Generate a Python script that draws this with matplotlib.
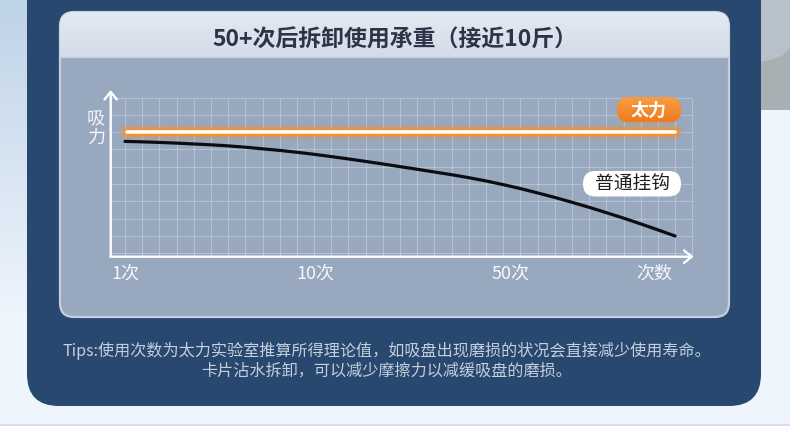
import matplotlib
matplotlib.use("Agg")
import matplotlib.pyplot as plt
import numpy as np
from matplotlib.patches import FancyBboxPatch, Rectangle, Polygon, PathPatch
from matplotlib.path import Path
from matplotlib.transforms import blended_transform_factory

plt.rcParams['font.family'] = ['Noto Sans CJK SC', 'DejaVu Sans']

# ---- data -------------------------------------------------------------
title = "50+次后拆卸使用承重（接近10斤）"
tips_lines = [
    "Tips:使用次数为太力实验室推算所得理论值，如吸盘出现磨损的状况会直接减少使用寿命。",
    "卡片沾水拆卸，可以减少摩擦力以减缓吸盘的磨损。",
]
series_names = ["太力", "普通挂钩"]
taili_x = [0.1, 32.0]
taili_y = [7.0, 7.0]
hook_x = [0, 2, 4, 6, 8, 10, 12, 14, 16, 18, 20, 22, 24, 26, 28, 30, 32]
hook_y = [6.47, 6.41, 6.32, 6.21, 6.04, 5.84, 5.59, 5.31, 5.01, 4.70, 4.37,
          3.97, 3.49, 2.95, 2.35, 1.70, 1.0]
x_tick_labels = ["1次", "10次", "50次", "次数"]
y_label_chars = ["吸", "力"]

# ---- layout -----------------------------------------------------------
W, H = 790, 426
X0_PX, SX = 125.0, 17.19      # pixel of x=0 and pixels per grid cell
Y0_PX, SY = 253.3, 17.3       # pixel of y=0 and pixels per grid cell
AX_L, AX_R, AX_T, AX_B = 110.7, 693.5, 90.0, 256.7
x_tick_pos = [0.05, 11.05, 22.4, 30.8]

NAVY = "#284870"
CHART_BG = "#98a8be"
PAGE_BG = "#eef5fd"

fig = plt.figure(figsize=(W / 100, H / 100), dpi=100)
fig.patch.set_facecolor(PAGE_BG)

# background layer in pixel coordinates
bg = fig.add_axes([0, 0, 1, 1])
bg.set_xlim(0, W)
bg.set_ylim(H, 0)
bg.axis("off")


def vgrad(ax, x0, x1, y0, y1, c_top, c_bot, **kw):
    t = np.linspace(0, 1, 64)[:, None, None]
    a = np.array(matplotlib.colors.to_rgb(c_top))[None, None, :]
    b = np.array(matplotlib.colors.to_rgb(c_bot))[None, None, :]
    img = a * (1 - t) + b * t
    return ax.imshow(img, extent=[x0, x1, y1, y0], origin="upper",
                     aspect="auto", interpolation="bilinear", **kw)


def smooth_path(xs, ys):
    """Catmull-Rom style cubic Bezier path through the given points."""
    p = np.column_stack([xs, ys]).astype(float)
    verts = [p[0]]
    codes = [Path.MOVETO]
    n = len(p)
    for i in range(n - 1):
        p0 = p[i - 1] if i > 0 else p[i]
        p1, p2 = p[i], p[i + 1]
        p3 = p[i + 2] if i + 2 < n else p[i + 1]
        c1 = p1 + (p2 - p0) / 6.0
        c2 = p2 - (p3 - p1) / 6.0
        verts += [c1, c2, p2]
        codes += [Path.CURVE4] * 3
    return Path(verts, codes)


# side strips
vgrad(bg, 0, 28, 0, 320, "#bfd3e7", PAGE_BG, zorder=0)
bg.add_patch(Rectangle((760, 0), 30, 110, facecolor="#a9b0b3", zorder=0.5))
bg.add_patch(Polygon([(760, 0), (790, 0), (790, 48), (782, 56), (770, 60),
                      (760, 62)], closed=True, facecolor="#b6c1c9",
                     zorder=0.6))
bg.plot([0, W], [425, 425], color="#d3dbe4", lw=1.2, zorder=0.6)
bg.set_xlim(0, W)
bg.set_ylim(H, 0)

# navy panel
bg.add_patch(FancyBboxPatch((27, -60), 734, 466,
                            boxstyle="round,pad=0,rounding_size=32",
                            facecolor=NAVY, edgecolor="none", zorder=1))

# card
card = FancyBboxPatch((60, 12), 669, 305,
                      boxstyle="round,pad=0,rounding_size=14",
                      facecolor=CHART_BG, edgecolor="#c3cfe0", lw=1.6,
                      zorder=2)
bg.add_patch(card)
hdr = vgrad(bg, 60, 729, 12, 57, "#e3eaf3", "#d3dce7", zorder=2.5)
hdr.set_clip_path(card)
bg.plot([61, 728], [57, 57], color="#c8d2df", lw=0.8, zorder=2.6)
bg.set_xlim(0, W)
bg.set_ylim(H, 0)

bg.text(395, 40, title, ha="center", va="center", fontsize=16.5,
        fontweight="bold", color="#2f3348", zorder=3)

for i, line in enumerate(tips_lines):
    bg.text(387, 351 + i * 20.5, line, ha="center", va="center",
            fontsize=11.6, color="#c6cfdc", zorder=3)

# ---- chart axes -------------------------------------------------------
ax = fig.add_axes([AX_L / W, 1 - AX_B / H, (AX_R - AX_L) / W,
                   (AX_B - AX_T) / H])
xmin, xmax = (AX_L - X0_PX) / SX, (AX_R - X0_PX) / SX
ymin, ymax = (Y0_PX - AX_B) / SY, (Y0_PX - AX_T) / SY
ax.set_xlim(xmin, xmax)
ax.set_ylim(ymin, ymax)
ax.axis("off")

grid_c = (1, 1, 1, 0.28)
ax.vlines(np.arange(0, 34), ymin, 9.0, colors=[grid_c], lw=0.8, zorder=1)
ax.hlines(np.arange(0, 10), xmin, 33.0, colors=[grid_c], lw=0.8, zorder=1)

arrow_kw = dict(arrowstyle="->,head_length=0.55,head_width=0.45",
                color="white", lw=1.7, shrinkA=0, shrinkB=0)
ax.annotate("", xy=(xmin, ymax), xytext=(xmin, ymin),
            arrowprops=arrow_kw, annotation_clip=False, zorder=4)
ax.annotate("", xy=(xmax, ymin), xytext=(xmin, ymin),
            arrowprops=arrow_kw, annotation_clip=False, zorder=4)

# glowing 太力 line
for lw, al in [(13, 0.08), (10, 0.16), (7.5, 0.35), (5.2, 1.0)]:
    ax.plot(taili_x, taili_y, color="#f6922c", lw=lw, alpha=al,
            solid_capstyle="round", zorder=3)
ax.plot(taili_x, taili_y, color="white", lw=2.6, solid_capstyle="round",
        zorder=3.5)

# 普通挂钩 curve
ax.add_patch(PathPatch(smooth_path(hook_x, hook_y), facecolor="none",
                       edgecolor="#0c0c12", lw=2.3, capstyle="round",
                       zorder=3))

# axis labels
tr = blended_transform_factory(ax.transData, bg.transData)
for pos, lab in zip(x_tick_pos, x_tick_labels):
    ax.text(pos, 273.5, lab, transform=tr, ha="center", va="center",
            fontsize=13, color="#f5f7fb", clip_on=False)
for i, ch in enumerate(y_label_chars):
    ax.text(95.8, 119 + i * 18.5, ch, transform=bg.transData, ha="center",
            va="center", fontsize=13, color="#f5f7fb", clip_on=False)

# ---- overlay badges ---------------------------------------------------
ov = fig.add_axes([0, 0, 1, 1])
ov.set_xlim(0, W)
ov.set_ylim(H, 0)
ov.axis("off")
ov.patch.set_alpha(0)

b1 = FancyBboxPatch((617, 97), 64, 25.5,
                    boxstyle="round,pad=0,rounding_size=12.5",
                    facecolor="#f3862a", edgecolor="none", zorder=5)
ov.add_patch(b1)
g = vgrad(ov, 617, 681, 97, 122.5, "#f99e42", "#ee7b1f", zorder=5.1)
g.set_clip_path(b1)
ov.text(649, 110, series_names[0], ha="center", va="center", fontsize=13,
        fontweight="bold", color="white", zorder=6)

b2 = FancyBboxPatch((583, 171), 98, 25.5,
                    boxstyle="round,pad=0,rounding_size=12.5",
                    facecolor="white", edgecolor="none", zorder=5)
ov.add_patch(b2)
ov.text(632, 184, series_names[1], ha="center", va="center", fontsize=13.5,
        color="#1e1e22", zorder=6)
ov.set_xlim(0, W)
ov.set_ylim(H, 0)

fig.savefig("out.png", dpi=100, facecolor=fig.get_facecolor())
